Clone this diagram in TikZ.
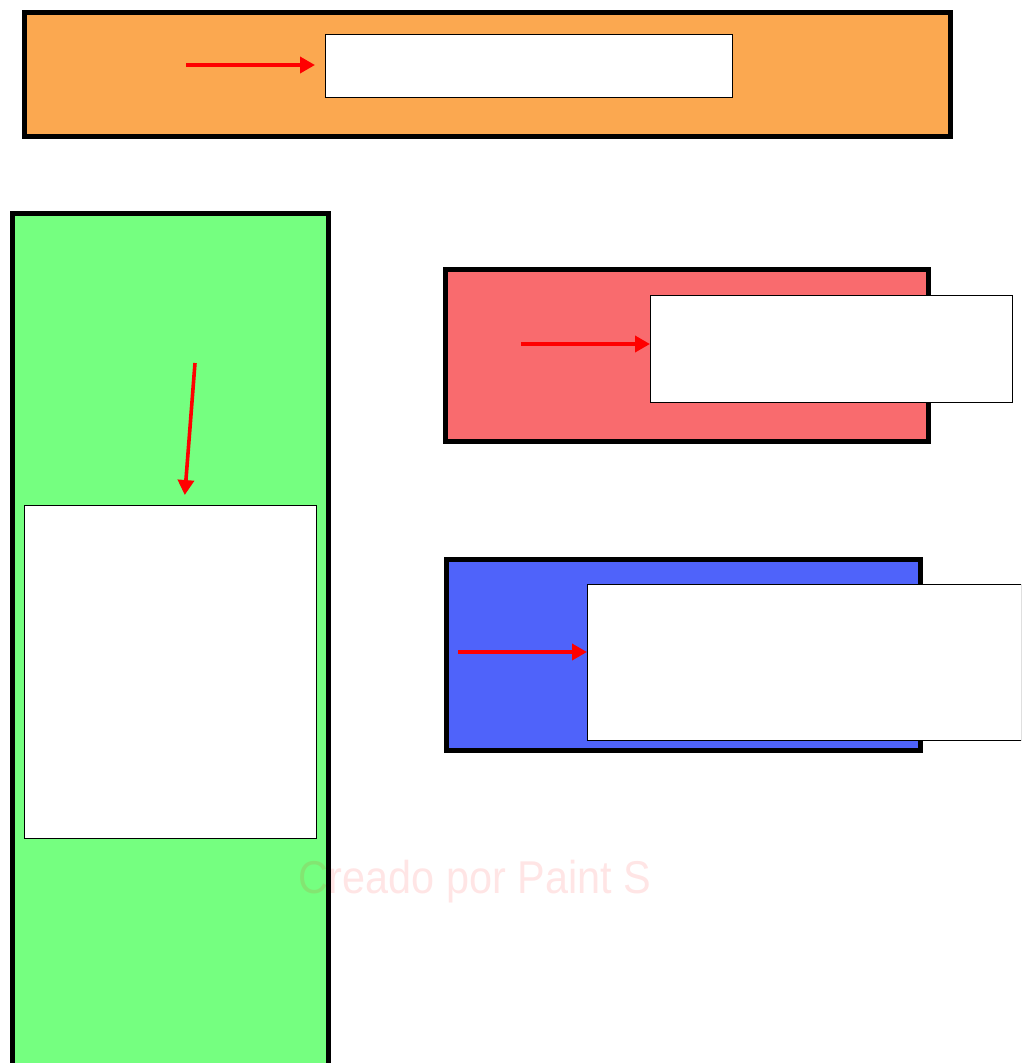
\documentclass[tikz,border=0pt]{standalone}
\usepackage{fontspec}
\usetikzlibrary{arrows.meta}
\newfontfamily\wmfont{Liberation Sans}
\definecolor{orangefill}{HTML}{FBA850}
\definecolor{greenfill}{HTML}{75FF80}
\definecolor{redfill}{HTML}{F96B6E}
\definecolor{bluefill}{HTML}{4F63FA}
\tikzset{
  panel/.style={draw=black,line width=4.5pt,anchor=north west,inner sep=0pt,outer sep=0pt},
  whitebox/.style={draw=black,line width=0.9pt,fill=white,anchor=north west,inner sep=0pt,outer sep=0pt},
  redarrow/.style={draw=red,line width=3.6pt,-{Triangle[length=15pt,width=16pt]}},
}
\begin{document}
\begin{tikzpicture}[x=1pt,y=-1pt]
\useasboundingbox (0,0) rectangle (1021,1063);
\clip (0,0) rectangle (1021,1063);
\fill[white] (0,0) rectangle (1021,1063);
% orange panel
\node[panel,fill=orangefill,minimum width=926pt,minimum height=124pt] (op) at (24.5,12.5) {};
\node[whitebox,minimum width=407pt,minimum height=63pt] (ow) at (325,34) {};
\coordinate (oa) at (186,65);
\draw[redarrow,shorten >=10pt] (oa) -- (ow.west |- oa);
% green panel
\node[panel,fill=greenfill,minimum width=316pt,minimum height=870pt] (gp) at (12.5,213.5) {};
\node[whitebox,minimum width=292pt,minimum height=333pt] (gw) at (24,505) {};
\coordinate (ga) at (195,363);
\coordinate (gb) at (184,505);
\draw[redarrow,shorten >=10pt] (ga) -- (gb);
% red panel
\node[panel,fill=redfill,minimum width=483pt,minimum height=172pt] (rp) at (445.5,269.5) {};
\node[whitebox,minimum width=362pt,minimum height=107pt] (rw) at (650,295) {};
\coordinate (ra) at (521,344);
\draw[redarrow] (ra) -- (rw.west |- ra);
% blue panel
\node[panel,fill=bluefill,minimum width=474pt,minimum height=191pt] (bp) at (446.5,559.5) {};
\node[whitebox,minimum width=434pt,minimum height=156pt] (bw) at (587,584) {};
\coordinate (ba) at (458,652);
\draw[redarrow] (ba) -- (bw.west |- ba);
% watermark
\node[text=red,text opacity=0.1,font=\wmfont\fontsize{46}{46}\selectfont,xscale=0.9,anchor=center] (wm) at (475,882) {Creado por Paint S};
\end{tikzpicture}
\end{document}
